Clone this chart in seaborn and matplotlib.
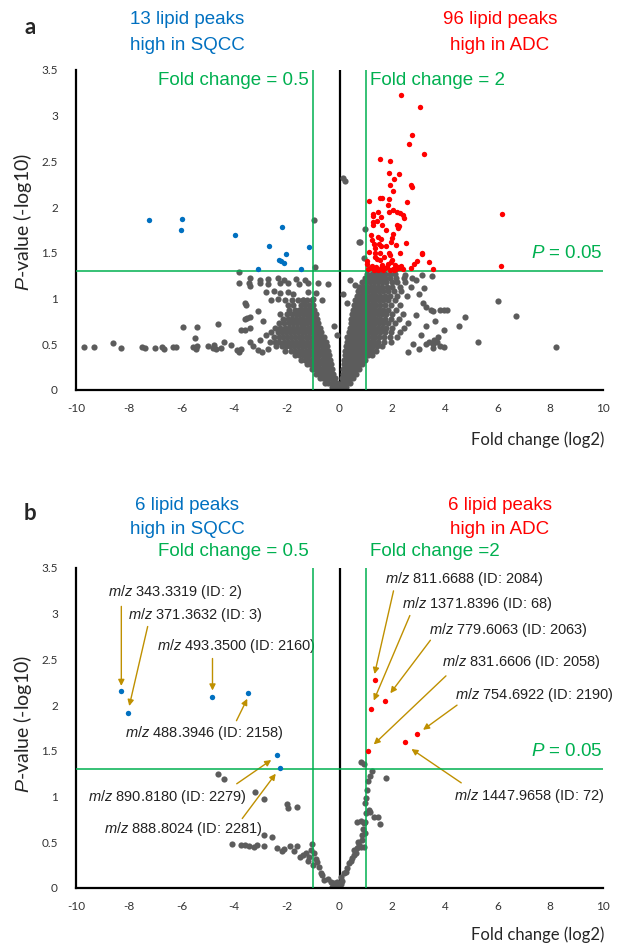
import matplotlib
matplotlib.use("Agg")
import matplotlib.pyplot as plt
import seaborn as sns
import pandas as pd

GREEN = "#00B050"
BLUE = "#0070C0"
RED = "#FF0000"
GRAY = "#5C5C5C"
GOLD = "#BF9000"

# ---------------- panel a ----------------
blue_a = [(-7.22, 1.86), (-5.98, 1.87), (-6.01, 1.75), (-3.97, 1.70), (-2.17, 1.78),
          (-2.69, 1.58), (-2.02, 1.49), (-2.23, 1.41), (-2.10, 1.39), (-2.28, 1.42),
          (-1.14, 1.56), (-3.11, 1.32), (-1.47, 1.32)]

red_a = [(2.35, 3.23), (3.06, 3.09), (2.74, 2.79), (2.65, 2.69), (3.21, 2.58), (1.54, 2.53),
         (1.92, 2.50), (1.89, 2.37), (2.27, 2.36), (2.06, 2.31), (1.92, 2.24), (2.70, 2.24),
         (2.77, 2.22), (2.03, 2.18), (1.53, 2.10), (1.63, 2.10), (1.88, 2.09), (1.11, 2.07),
         (2.56, 2.06), (1.84, 2.02), (2.02, 1.97), (2.17, 1.95), (2.31, 1.94), (1.87, 1.95),
         (1.28, 1.93), (1.26, 1.90), (2.41, 1.91), (2.44, 1.88), (1.59, 1.89), (1.26, 1.84),
         (1.44, 1.85), (1.62, 1.81), (1.29, 1.81), (2.19, 1.81), (2.27, 1.79), (2.22, 1.77),
         (2.03, 1.71), (1.47, 1.67), (1.58, 1.65), (2.01, 1.66), (1.96, 1.62), (1.25, 1.64),
         (1.30, 1.60), (2.54, 1.61), (1.49, 1.60), (1.59, 1.58), (2.16, 1.59), (1.77, 1.57),
         (1.11, 1.51), (1.36, 1.50), (1.53, 1.50), (1.86, 1.50), (1.93, 1.48), (3.12, 1.49),
         (1.34, 1.46), (1.43, 1.43), (1.53, 1.42), (2.95, 1.41), (2.82, 1.38), (3.40, 1.40),
         (3.55, 1.32), (1.05, 1.41), (1.05, 1.38), (1.94, 1.40), (2.11, 1.37), (2.23, 1.35),
         (2.35, 1.36), (1.62, 1.37), (1.81, 1.35), (1.73, 1.33), (1.15, 1.33), (1.30, 1.31),
         (1.48, 1.31), (1.65, 1.31), (2.03, 1.32), (2.15, 1.32), (2.25, 1.33), (1.91, 1.31),
         (6.16, 1.93), (6.14, 1.36), (3.12, 1.50), (1.10, 1.32), (1.40, 1.34), (1.58, 1.33),
         (2.08, 1.31), (1.22, 1.36), (1.70, 1.45), (2.40, 1.32), (1.85, 1.38), (2.00, 1.42),
         (1.36, 1.55), (2.70, 1.33), (1.20, 1.70), (1.75, 1.75), (2.30, 1.50), (1.45, 1.95)]

# dense left arm of the volcano, one row per -log10 level
left_arm_a = [
    (0.03, [-0.30, -0.18, -0.08]),
    (0.08, [-0.55, -0.42, -0.30, -0.20, -0.10]),
    (0.13, [-0.75, -0.62, -0.50, -0.38, -0.27, -0.17]),
    (0.18, [-0.90, -0.78, -0.66, -0.55, -0.44, -0.33, -0.24]),
    (0.23, [-1.05, -0.93, -0.82, -0.70, -0.58, -0.47, -0.37, -0.28]),
    (0.28, [-1.25, -1.12, -1.00, -0.88, -0.76, -0.64, -0.53, -0.42, -0.32]),
    (0.33, [-1.45, -1.32, -1.18, -1.05, -0.93, -0.80, -0.68, -0.57, -0.46, -0.36]),
    (0.38, [-1.70, -1.55, -1.40, -1.27, -1.14, -1.01, -0.88, -0.76, -0.64, -0.52, -0.41]),
    (0.43, [-2.05, -1.85, -1.70, -1.55, -1.42, -1.28, -1.15, -1.02, -0.90, -0.78, -0.66, -0.55, -0.45]),
    (0.48, [-2.40, -2.20, -2.02, -1.88, -1.72, -1.58, -1.44, -1.30, -1.17, -1.05, -0.92, -0.80, -0.68, -0.58, -0.48]),
    (0.53, [-2.65, -2.45, -2.28, -2.10, -1.95, -1.80, -1.65, -1.50, -1.37, -1.23, -1.10, -0.97, -0.85, -0.74, -0.62, -0.52]),
    (0.58, [-2.50, -2.30, -2.15, -2.00, -1.85, -1.70, -1.55, -1.42, -1.28, -1.15, -1.02, -0.90, -0.78, -0.67, -0.57]),
    (0.63, [-2.60, -2.35, -2.18, -2.02, -1.86, -1.72, -1.58, -1.44, -1.30, -1.17, -1.05, -0.93, -0.82, -0.71]),
    (0.68, [-2.45, -2.25, -2.05, -1.90, -1.75, -1.60, -1.46, -1.33, -1.20, -1.08, -0.96, -0.85, -0.75]),
    (0.73, [-2.30, -2.10, -1.92, -1.78, -1.62, -1.48, -1.35, -1.22, -1.10, -0.98, -0.88, -0.80]),
    (0.78, [-2.15, -1.95, -1.80, -1.65, -1.50, -1.37, -1.25, -1.13, -1.02, -0.92, -0.84]),
    (0.83, [-2.25, -2.00, -1.82, -1.66, -1.52, -1.40, -1.28, -1.16, -1.05, -0.95, -0.88]),
    (0.88, [-1.90, -1.70, -1.55, -1.42, -1.30, -1.18, -1.08, -0.98]),
    (0.93, [-1.95, -1.75, -1.45, -1.30, -1.15, -1.02]),
    (0.98, [-1.80, -1.58, -1.40, -1.22, -1.05]),
]

right_arm_a = [
    (0.03, [0.05, 0.14, 0.24]),
    (0.08, [0.08, 0.18, 0.28, 0.38]),
    (0.13, [0.10, 0.20, 0.30, 0.40, 0.50]),
    (0.18, [0.12, 0.22, 0.32, 0.42, 0.52, 0.62]),
    (0.23, [0.14, 0.24, 0.34, 0.44, 0.54, 0.64, 0.74]),
    (0.28, [0.16, 0.26, 0.36, 0.46, 0.56, 0.66, 0.76, 0.86]),
    (0.33, [0.18, 0.28, 0.38, 0.48, 0.58, 0.68, 0.78, 0.88, 0.98]),
    (0.38, [0.20, 0.30, 0.40, 0.50, 0.60, 0.70, 0.80, 0.90, 1.00, 1.10, 1.25]),
    (0.43, [0.22, 0.32, 0.42, 0.52, 0.62, 0.72, 0.82, 0.92, 1.02, 1.12, 1.25, 1.40]),
    (0.48, [0.25, 0.35, 0.45, 0.55, 0.65, 0.75, 0.85, 0.95, 1.05, 1.15, 1.28, 1.42, 1.60]),
    (0.53, [0.28, 0.38, 0.48, 0.58, 0.68, 0.78, 0.88, 0.98, 1.08, 1.20, 1.32, 1.48, 1.70, 1.95]),
    (0.58, [0.30, 0.40, 0.50, 0.60, 0.70, 0.80, 0.90, 1.00, 1.10, 1.22, 1.35, 1.50, 1.68, 1.90, 2.20]),
    (0.63, [0.35, 0.45, 0.55, 0.65, 0.75, 0.85, 0.95, 1.05, 1.16, 1.28, 1.40, 1.55, 1.72, 1.95, 2.30]),
    (0.68, [0.40, 0.50, 0.60, 0.70, 0.80, 0.90, 1.00, 1.10, 1.20, 1.32, 1.45, 1.60, 1.78, 2.00, 2.45]),
    (0.73, [0.42, 0.52, 0.62, 0.72, 0.82, 0.92, 1.02, 1.12, 1.24, 1.36, 1.50, 1.65, 1.85, 2.10, 2.60]),
    (0.78, [0.45, 0.55, 0.65, 0.75, 0.85, 0.95, 1.05, 1.16, 1.28, 1.40, 1.55, 1.72, 1.95, 2.25]),
    (0.83, [0.48, 0.58, 0.68, 0.78, 0.88, 0.98, 1.08, 1.20, 1.32, 1.45, 1.60, 1.78, 2.00, 2.40]),
    (0.88, [0.52, 0.62, 0.72, 0.82, 0.92, 1.02, 1.12, 1.24, 1.36, 1.50, 1.65, 1.85, 2.15]),
    (0.93, [0.55, 0.65, 0.75, 0.85, 0.95, 1.05, 1.16, 1.28, 1.40, 1.55, 1.72, 1.95, 2.30]),
    (0.98, [0.60, 0.70, 0.80, 0.90, 1.00, 1.10, 1.22, 1.35, 1.50, 1.66, 1.85, 2.10]),
    (1.03, [0.65, 0.78, 0.90, 1.02, 1.14, 1.26, 1.40, 1.55, 1.72, 1.92, 2.20, 2.55]),
    (1.08, [0.70, 0.85, 0.98, 1.10, 1.22, 1.35, 1.50, 1.66, 1.85, 2.05, 2.35]),
    (1.13, [0.75, 0.90, 1.05, 1.18, 1.32, 1.46, 1.62, 1.80, 2.00, 2.30, 2.70]),
    (1.18, [0.85, 1.00, 1.15, 1.30, 1.45, 1.60, 1.78, 1.98, 2.20, 2.50]),
    (1.23, [0.95, 1.10, 1.25, 1.40, 1.56, 1.74, 1.92, 2.15, 2.45]),
    (1.27, [1.05, 1.22, 1.38, 1.55, 1.72, 1.90, 2.10]),
]

sparse_a = [(-9.7, 0.47), (-9.3, 0.47), (-8.6, 0.51), (-8.3, 0.46), (-7.5, 0.47), (-7.4, 0.46),
            (-7.0, 0.46), (-6.75, 0.47), (-6.65, 0.45), (-6.3, 0.47), (-6.2, 0.47), (-5.95, 0.69),
            (-5.4, 0.69), (-5.5, 0.57), (-5.55, 0.47), (-5.45, 0.45), (-5.4, 0.48), (-5.0, 0.48),
            (-4.8, 0.46), (-4.75, 0.49), (-4.7, 0.45), (-4.6, 0.72), (-4.4, 0.52), (-4.5, 0.46),
            (-4.1, 0.49), (-3.9, 0.44), (-3.8, 0.42), (-3.75, 0.45), (-3.8, 1.29), (-3.8, 1.17),
            (-3.4, 1.23), (-3.4, 1.14), (-3.6, 0.95), (-3.55, 0.93), (-3.6, 0.78), (-3.4, 0.80),
            (-3.75, 0.66), (-3.6, 0.66), (-3.4, 0.68), (-3.1, 0.86), (-3.4, 0.52), (-3.3, 0.48),
            (-3.1, 0.44), (-3.0, 1.20), (-2.7, 1.21), (-2.35, 1.22), (-2.1, 1.20), (-1.65, 1.21),
            (-1.3, 1.20), (-3.45, 1.17), (-3.0, 1.17), (-2.7, 1.16), (-2.25, 1.17), (-1.95, 1.17),
            (-1.55, 1.16), (-1.2, 1.17), (-0.8, 1.17), (-0.45, 1.16), (-2.8, 1.07), (-2.5, 1.08),
            (-2.25, 1.06), (-1.95, 1.07), (-1.75, 1.05), (-1.2, 1.07), (-0.9, 1.06), (-2.6, 0.98),
            (-2.35, 0.99), (-2.05, 0.98), (-1.4, 0.98), (-1.0, 0.99), (-0.65, 0.98), (-0.98, 1.86),
            (-0.94, 1.34), (-3.5, 0.79), (-2.9, 0.75), (-2.8, 0.60), (-3.0, 0.55), (-2.95, 0.42),
            (-2.7, 0.45), (0.14, 2.32), (0.19, 2.29), (0.73, 1.62), (0.78, 1.62), (0.92, 1.44),
            (0.97, 1.76), (0.40, 1.20), (0.60, 1.15), (0.15, 1.05), (0.30, 0.95), (-0.20, 0.70),
            (-0.10, 0.60), (6.0, 0.97), (6.7, 0.81), (8.22, 0.47), (5.24, 0.53), (4.76, 0.80),
            (4.53, 0.70), (4.08, 0.87), (3.95, 0.87), (3.80, 0.88), (3.47, 0.87), (3.28, 0.91),
            (3.64, 0.76), (3.95, 0.66), (3.60, 0.55), (3.70, 0.52), (3.55, 0.50), (3.75, 0.58),
            (3.95, 0.47), (3.83, 0.48), (3.55, 0.46), (3.40, 0.52), (3.27, 0.50), (3.55, 0.86),
            (3.00, 1.05), (3.20, 1.12), (2.90, 1.20), (3.50, 1.25), (3.30, 0.70), (3.10, 0.60),
            (2.80, 0.50), (3.00, 0.45), (2.60, 0.42), (2.90, 0.82), (3.15, 0.95), (2.50, 1.26),
            (2.75, 1.22), (3.13, 1.26)]

# ---------------- panel b ----------------
blue_b = [(-8.28, 2.15), (-8.01, 1.91), (-4.82, 2.09), (-3.46, 2.13), (-2.37, 1.45), (-2.25, 1.31)]
red_b = [(1.34, 2.27), (1.74, 2.05), (1.21, 1.96), (2.93, 1.68), (2.49, 1.60), (1.07, 1.50)]
gray_b = [(-4.61, 1.25), (-4.38, 1.19), (-3.21, 1.05), (-2.87, 0.97), (-1.98, 0.92), (-1.60, 0.89),
          (-1.94, 0.87), (-2.87, 0.58), (-2.56, 0.56), (-4.09, 0.48), (-3.75, 0.47), (-3.60, 0.47),
          (-3.43, 0.46), (-3.25, 0.45), (-3.12, 0.47), (-2.87, 0.46), (-2.36, 0.44), (-2.17, 0.41),
          (-2.11, 0.43), (-1.86, 0.46), (-1.60, 0.46), (-1.73, 0.40), (-1.50, 0.34), (-1.29, 0.38),
          (-1.16, 0.34), (-1.07, 0.42), (-1.03, 0.48), (-0.97, 0.38), (-0.91, 0.32), (-0.78, 0.23),
          (-0.72, 0.16), (-0.59, 0.09), (-0.34, 0.07), (-0.22, 0.05), (-0.09, 0.03), (0.04, 0.04),
          (-0.45, 0.10), (-0.65, 0.14), (-0.85, 0.28), (-1.00, 0.25), (-1.20, 0.30), (-1.40, 0.36),
          (0.82, 1.38), (0.92, 1.36), (1.23, 1.28), (1.16, 1.22), (1.08, 1.17), (1.75, 1.20),
          (1.05, 1.07), (0.98, 0.93), (1.11, 0.85), (1.17, 0.83), (1.02, 0.82), (1.30, 0.78),
          (1.45, 0.78), (1.53, 0.70), (0.67, 0.72), (0.80, 0.73), (0.92, 0.71), (0.98, 0.72),
          (0.90, 0.64), (0.85, 0.58), (0.87, 0.53), (0.54, 0.42), (0.67, 0.44), (0.80, 0.45),
          (0.92, 0.45), (0.61, 0.38), (0.48, 0.33), (0.35, 0.27), (0.29, 0.22), (0.16, 0.16),
          (0.04, 0.12), (-0.09, 0.07), (-0.22, 0.03), (-0.28, 0.01), (0.42, 0.30), (0.55, 0.36),
          (0.72, 0.50), (0.95, 0.60), (0.25, 0.18), (0.10, 0.08), (1.00, 0.98), (0.75, 0.47)]

labels_b = ["343.3319 (ID: 2)", "371.3632 (ID: 3)", "493.3500 (ID: 2160)", "488.3946 (ID: 2158)",
            "890.8180 (ID: 2279)", "888.8024 (ID: 2281)", "811.6688 (ID: 2084)", "1371.8396 (ID: 68)",
            "779.6063 (ID: 2063)", "831.6606 (ID: 2058)", "754.6922 (ID: 2190)", "1447.9658 (ID: 72)"]

# text position (left edge, centre) and arrow start -> tip, in data units
label_layout_b = [
    ((-8.79, 3.24), (-8.28, 3.08), (-8.28, 2.21)),
    ((-8.03, 2.99), (-7.28, 2.86), (-7.98, 1.99)),
    ((-6.93, 2.65), (-4.82, 2.51), (-4.82, 2.16)),
    ((-8.14, 1.69), (-3.91, 1.83), (-3.50, 2.07)),
    ((-9.56, 1.00), (-3.90, 1.14), (-2.59, 1.40)),
    ((-8.95, 0.65), (-3.69, 0.76), (-2.42, 1.25)),
    ((1.74, 3.38), (2.05, 3.25), (1.33, 2.34)),
    ((2.36, 3.11), (2.67, 2.98), (1.30, 2.05)),
    ((3.38, 2.82), (3.45, 2.71), (1.93, 2.13)),
    ((3.89, 2.47), (4.04, 2.32), (1.30, 1.57)),
    ((4.39, 2.11), (4.46, 2.00), (3.17, 1.73)),
    ((4.33, 1.01), (4.62, 1.15), (2.73, 1.52)),
]

X_TICKS = list(range(-10, 11, 2))
Y_TICKS = [0, 0.5, 1, 1.5, 2, 2.5, 3, 3.5]


def rows_to_points(rows):
    return [(x, y) for y, xs in rows for x in xs]


def to_frame(points):
    return pd.DataFrame(points, columns=["fc", "p"])


def style_axes(ax):
    ax.set_xlim(-10, 10)
    ax.set_ylim(0, 3.5)
    ax.set_xticks(X_TICKS)
    ax.set_xticklabels([str(v) for v in X_TICKS])
    ax.set_yticks(Y_TICKS)
    ax.set_yticklabels([f"{v:g}" for v in Y_TICKS])
    ax.tick_params(length=0, labelsize=8.5, colors="#333333")
    ax.tick_params(axis="y", pad=13)
    ax.tick_params(axis="x", pad=9)
    for side in ["top", "right"]:
        ax.spines[side].set_visible(False)
    for side in ["left", "bottom"]:
        ax.spines[side].set_color("black")
        ax.spines[side].set_linewidth(1.6)
    ax.set_xlabel("")
    ax.set_ylabel("")
    ax.grid(False)
    ax.axvline(0, color="black", lw=1.6, zorder=1)
    ax.axvline(-1, color=GREEN, lw=1.1, zorder=4)
    ax.axvline(1, color=GREEN, lw=1.1, zorder=4)
    ax.axhline(1.3, color=GREEN, lw=1.1, zorder=4)
    ax.text(10, 1.49, r"$\mathit{P}$ = 0.05", color=GREEN, fontsize=13.5,
            ha="right", va="center", family="Liberation Sans")


def draw_points(ax, gray, blue, red):
    sns.scatterplot(data=to_frame(gray), x="fc", y="p", color=GRAY, s=20,
                    linewidth=0, ax=ax, zorder=2)
    sns.scatterplot(data=to_frame(blue), x="fc", y="p", color=BLUE, s=15,
                    linewidth=0, ax=ax, zorder=5)
    sns.scatterplot(data=to_frame(red), x="fc", y="p", color=RED, s=15,
                    linewidth=0, ax=ax, zorder=5)


def fig_text(fig, x, y, s, **kw):
    fig.text(x / 626, 1 - y / 948, s, **kw)


sns.set_style("white")
plt.rcParams["font.family"] = ["Lato", "DejaVu Sans"]
plt.rcParams["axes.unicode_minus"] = False
plt.rcParams["mathtext.fontset"] = "custom"
plt.rcParams["mathtext.it"] = "Liberation Sans:italic"
plt.rcParams["mathtext.rm"] = "Liberation Sans"

fig = plt.figure(figsize=(6.26, 9.48), dpi=100)
ax_a = fig.add_axes([76 / 626, 1 - 390 / 948, 527 / 626, 320 / 948])
ax_b = fig.add_axes([76 / 626, 1 - 888 / 948, 527 / 626, 320 / 948])

gray_a = rows_to_points(left_arm_a) + rows_to_points(right_arm_a) + sparse_a
draw_points(ax_a, gray_a, blue_a, red_a)
draw_points(ax_b, gray_b, blue_b, red_b)
style_axes(ax_a)
style_axes(ax_b)

arial = dict(family="Liberation Sans")

# fold change labels
ax_a.text(-1.17, 3.39, "Fold change = 0.5", color=GREEN, fontsize=13.5, ha="right", va="center", **arial)
ax_a.text(1.15, 3.39, "Fold change = 2", color=GREEN, fontsize=13.5, ha="left", va="center", **arial)
ax_b.text(-1.17, 3.68, "Fold change = 0.5", color=GREEN, fontsize=13.5, ha="right", va="center", **arial)
ax_b.text(1.15, 3.68, "Fold change =2", color=GREEN, fontsize=13.5, ha="left", va="center", **arial)

# annotations of panel b
for label, (text_pos, start, tip) in zip(labels_b, label_layout_b):
    ax_b.text(text_pos[0], text_pos[1], r"$\mathit{m/z}$ " + label, fontsize=10.5,
              ha="left", va="center", color="#222222", **arial)
    ax_b.annotate("", xy=tip, xytext=start,
                  arrowprops=dict(arrowstyle="-|>", color=GOLD, lw=1.0,
                                  mutation_scale=9, shrinkA=0, shrinkB=0))

# headers
for top, n_sq, n_ad, letter in [(0, "13", "96", "a"), (485, "6", "6", "b")]:
    fig_text(fig, 30, top + 28, letter, fontsize=16, fontweight="bold", ha="center", va="center")
    fig_text(fig, 187, top + 20, f"{n_sq} lipid peaks", color=BLUE, fontsize=13.5, ha="center", va="center", **arial)
    fig_text(fig, 187, top + 45, "high in SQCC", color=BLUE, fontsize=13.5, ha="center", va="center", **arial)
    fig_text(fig, 500, top + 20, f"{n_ad} lipid peaks", color=RED, fontsize=13.5, ha="center", va="center", **arial)
    fig_text(fig, 500, top + 45, "high in ADC", color=RED, fontsize=13.5, ha="center", va="center", **arial)

for ycen, xlab_y in [(222, 440), (724, 935)]:
    fig_text(fig, 22, ycen, r"$\mathit{P}$-value (-log10)", fontsize=14, rotation=90, ha="center", va="center")
    fig_text(fig, 604, xlab_y, "Fold change (log2)", fontsize=12, ha="right", va="center")

fig.savefig("out.png", dpi=100)
